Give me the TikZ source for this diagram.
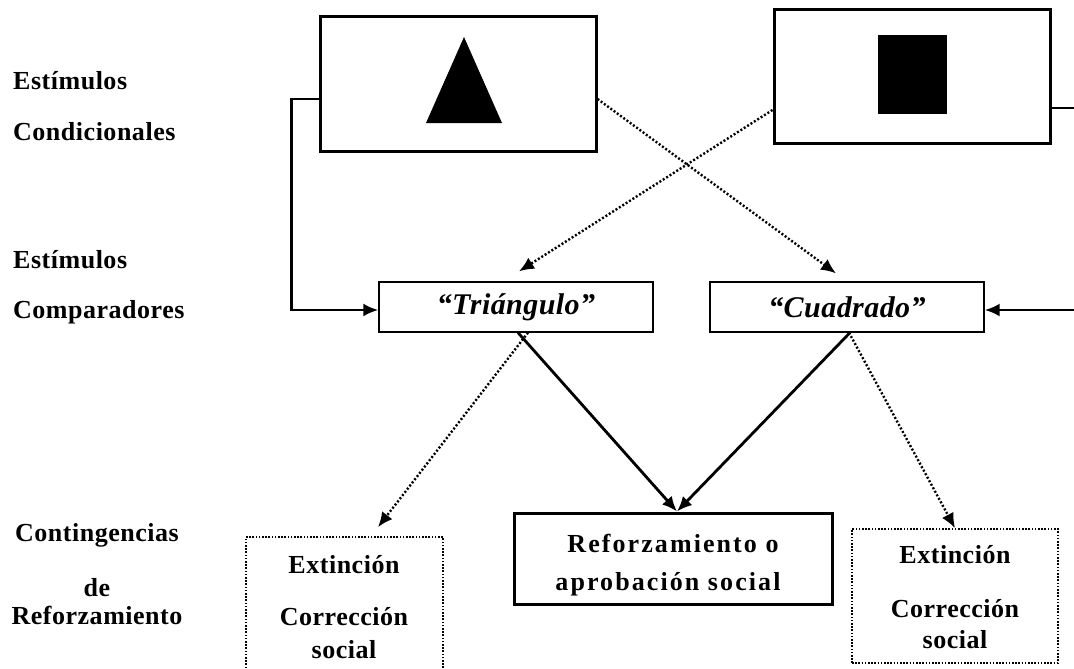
\documentclass[tikz,border=0pt]{standalone}
\usepackage{fontspec}
\setmainfont{Liberation Serif}
\newfontfamily\lblfont[LetterSpace=2]{Liberation Serif}
\newfontfamily\widefont[LetterSpace=8]{Liberation Serif}
\newfontfamily\cmpfont[LetterSpace=1.5]{Liberation Serif}
\usetikzlibrary{arrows.meta}
\tikzset{
  lbl/.style={font=\lblfont\bfseries\fontsize{26}{30}\selectfont, inner sep=0pt},
  widelbl/.style={font=\widefont\bfseries\fontsize{26}{30}\selectfont, inner sep=0pt},
  bigbox/.style={draw, line width=3pt, inner sep=0pt},
  cmpbox/.style={draw, line width=1.3pt, minimum width=274pt, minimum height=50pt,
    font=\cmpfont\bfseries\itshape\fontsize{30}{33}\selectfont},
  dotbox/.style={draw, line width=1.6pt, dash pattern=on 1.6pt off 1.6pt, inner sep=0pt},
  conn/.style={line width=2.8pt, -{Latex[length=15pt,width=13pt]}},
  dotconn/.style={line width=2.4pt, dash pattern=on 2pt off 2pt, -{Latex[length=15pt,width=13pt]}}
}
\begin{document}
\begin{tikzpicture}[x=1pt,y=-1pt]
  \useasboundingbox (0,0) rectangle (1074,669);
  % estimulos condicionales
  \node[bigbox, minimum width=276pt, minimum height=134pt] (tri) at (458,84) {};
  \node[bigbox, minimum width=276pt, minimum height=133pt] (sq) at (912,76.5) {};
  \fill (464,37) -- (502,123) -- (426,123) -- cycle;
  \fill (878,35) rectangle (947,114);
  % etiquetas
  \node[lbl, anchor=base west] (e1) at (13,89) {Estímulos};
  \node[lbl, anchor=base west] (c1) at (13,140) {Condicionales};
  \node[lbl, anchor=base west] (e2) at (13,268) {Estímulos};
  \node[lbl, anchor=base west] (c2) at (13,318) {Comparadores};
  \node[lbl, anchor=base] (k1) at (97,541) {Contingencias};
  \node[lbl, anchor=base] (k2) at (97,596) {de};
  \node[lbl, anchor=base] (k3) at (97,624) {Reforzamiento};
  % comparadores
  \node[cmpbox] (tria) at (516,307) {“Triángulo”};
  \node[cmpbox] (cuad) at (847,307) {“Cuadrado”};
  % contingencias
  \node[bigbox, minimum width=318pt, minimum height=91pt] (refz) at (673,558.5) {};
  \node[widelbl, anchor=base] (r1) at (673,552) {Reforzamiento o};
  \node[widelbl, anchor=base] (r2) at (668,590) {aprobación social};
  \node[dotbox, minimum width=197pt, minimum height=142pt] (extl) at (344.5,608) {};
  \node[lbl, anchor=base] (x1) at (344,573) {Extinción};
  \node[lbl, anchor=base] (x2) at (344,625) {Corrección};
  \node[lbl, anchor=base] (x3) at (344,658) {social};
  \node[dotbox, minimum width=206pt, minimum height=134pt] (extr) at (955,596) {};
  \node[lbl, anchor=base] (y1) at (955,563) {Extinción};
  \node[lbl, anchor=base] (y2) at (955,617) {Corrección};
  \node[lbl, anchor=base] (y3) at (955,648) {social};
  % conexiones
  \draw[conn] ([yshift=-15pt]tri.west) -- ++(-27,0) |- ([yshift=-3pt]tria.west);
  \draw[conn] ([yshift=-31.5pt]sq.east) -- ++(26,0) |- ([yshift=-3pt]cuad.east);
  \draw[dotconn] ([yshift=-15pt]tri.east) -- ([xshift=-11pt,yshift=8pt]cuad.north);
  \draw[dotconn] ([yshift=-33.5pt]sq.west) -- ([xshift=3pt,yshift=10pt]tria.north);
  \draw[conn] ([xshift=2pt]tria.south) -- ([xshift=4pt]refz.north);
  \draw[conn] ([xshift=3pt]cuad.south) -- ([xshift=4pt]refz.north);
  \draw[dotconn] ([xshift=12pt]tria.south) -- ([xshift=33.5pt,yshift=9pt]extl.north);
  \draw[dotconn] ([xshift=2pt]cuad.south) -- (extr.north);
\end{tikzpicture}
\end{document}
